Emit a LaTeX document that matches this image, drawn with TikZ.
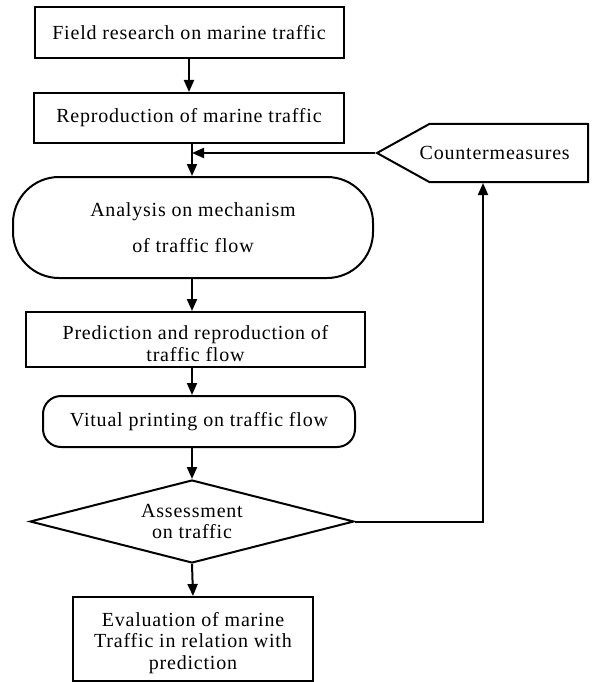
\documentclass[tikz,border=0pt]{standalone}
\usepackage{fontspec}
\setmainfont[LetterSpace=4]{Liberation Serif}
\usetikzlibrary{arrows.meta,shapes.geometric,shapes.symbols}
\begin{document}
\begin{tikzpicture}[
  x=1pt, y=-1pt,
  font=\fontsize{20}{21.5}\selectfont,
  box/.style={draw, line width=2pt, align=center, inner sep=0pt},
  pill/.style={box, rounded corners=46pt},
  soft/.style={box, rounded corners=18pt},
  decision/.style={draw, diamond, aspect=3.9, line width=2pt, align=center, inner sep=0pt},
  remedy/.style={draw, signal, signal to=west, signal pointer angle=58, line width=2pt, inner sep=0pt},
  flow/.style={-{Triangle[length=12pt,width=10pt]}, line width=2pt}
]
\useasboundingbox (0,0) rectangle (595,682);
\coordinate (axis) at (192,0);

\node[box, minimum width=309, minimum height=51] (field) at (189,32.5) {Field research on marine traffic};
\node[box, minimum width=310, minimum height=50] (repro) at (189,118) {Reproduction of marine traffic};
\node[pill, minimum width=360, minimum height=101] (analysis) at (193,227.5) {Analysis on mechanism\\[15pt]of traffic flow};
\node[box, minimum width=339, minimum height=55] (pred) at (195.5,339.5) {\rule{0pt}{22pt}Prediction and reproduction of\\traffic flow};
\node[soft, minimum width=312, minimum height=51] (virtual) at (199,421.5) {Vitual printing on traffic flow};
\node[decision, minimum width=324, minimum height=83] (assess) at (192,521.5) {Assessment\\on traffic};
\node[box, minimum width=240, minimum height=84] (eval) at (193,639) {\rule{0pt}{22pt}Evaluation of marine\\Traffic in relation with\\prediction};
\node[remedy, minimum width=211, minimum height=58, anchor=east] (counter) at (589,153) {\makebox[150pt][l]{\hspace*{-14pt}Countermeasures}};

\draw[flow] (field) -- (repro);
\draw[flow] (axis |- repro.south) -- (axis |- analysis.north);
\draw[flow] (counter.west) -- (axis |- counter.west);
\draw[flow] (axis |- analysis.south) -- (axis |- pred.north);
\draw[flow] (axis |- pred.south) -- (axis |- virtual.north);
\draw[flow] (axis |- virtual.south) -- (assess.north);
\draw[flow] (assess.south) -- (eval.north);
\draw[flow] (assess.east) -| (483,0 |- counter.south);
\end{tikzpicture}
\end{document}
